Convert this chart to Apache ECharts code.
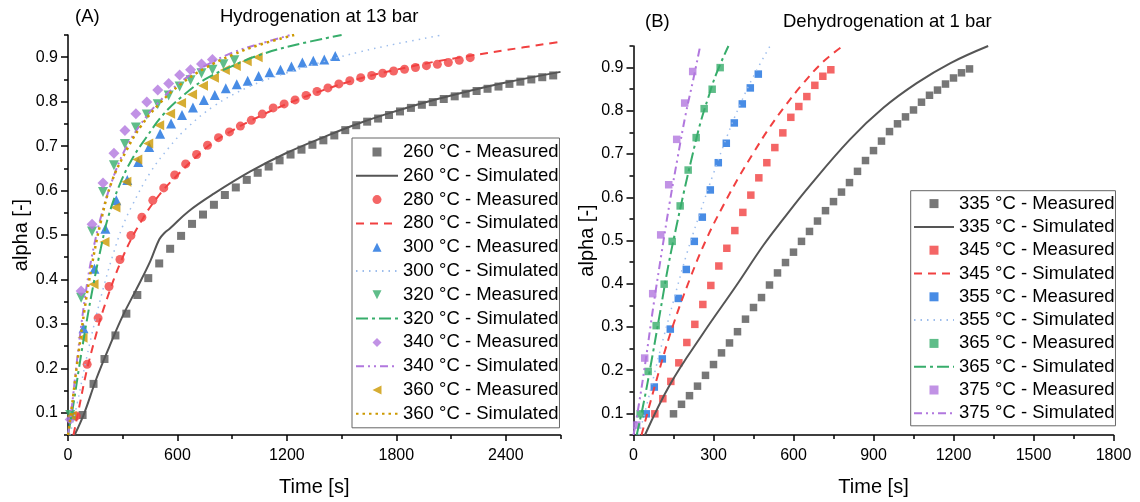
<!DOCTYPE html>
<html><head><meta charset="utf-8">
<script src="https://cdn.jsdelivr.net/npm/echarts@6/dist/echarts.min.js"></script>
<style>html,body{margin:0;padding:0;background:#fff}#c{width:1140px;height:502px}</style>
</head><body><div id="c"></div><script>
// ---------------- Panel A: Hydrogenation at 13 bar ----------------
const tA260m = [80,140,200,260,320,380,440,500,560,620,680,740,800,860,920,980,1040,1100,1160,1220,1280,1340,1400,1460,1520,1580,1640,1700,1760,1820,1880,1940,2000,2060,2120,2180,2240,2300,2360,2420,2480,2540,2600,2660];
const aA260m = [0.095,0.165,0.221,0.274,0.323,0.365,0.403,0.436,0.469,0.498,0.525,0.546,0.568,0.590,0.607,0.624,0.640,0.654,0.668,0.681,0.692,0.703,0.713,0.724,0.736,0.747,0.755,0.762,0.770,0.778,0.786,0.793,0.799,0.806,0.812,0.818,0.824,0.829,0.834,0.840,0.845,0.850,0.855,0.859];
const tA260s = [36,90,155,228,300,375,450,500,530,560,660,800,1000,1200,1400,1600,1800,2000,2200,2400,2700];
const aA260s = [0.05,0.10,0.176,0.25,0.318,0.378,0.44,0.49,0.505,0.515,0.553,0.593,0.643,0.685,0.72,0.752,0.779,0.803,0.824,0.843,0.867];

const tA280m = [45,105,165,225,285,345,405,465,525,585,645,705,765,825,885,945,1005,1065,1125,1185,1245,1305,1365,1425,1485,1545,1605,1665,1725,1785,1845,1905,1965,2025,2085,2145,2205];
const aA280m = [0.093,0.209,0.313,0.384,0.445,0.499,0.540,0.578,0.606,0.635,0.660,0.681,0.702,0.719,0.732,0.745,0.758,0.772,0.786,0.795,0.804,0.814,0.823,0.831,0.840,0.847,0.854,0.859,0.864,0.869,0.873,0.877,0.881,0.884,0.888,0.893,0.899];
const tA280s = [30,60,100,150,200,300,400,500,600,700,800,900,1000,1200,1400,1600,1800,2000,2200,2400,2700];
const aA280s = [0.05,0.11,0.19,0.27,0.34,0.45,0.53,0.59,0.635,0.675,0.71,0.735,0.757,0.795,0.826,0.852,0.872,0.889,0.903,0.916,0.935];

const tA300m = [25,85,145,205,265,325,385,445,505,565,625,685,745,805,865,925,985,1045,1105,1165,1225,1285,1345,1405,1465];
const aA300m = [0.095,0.29,0.424,0.514,0.578,0.624,0.664,0.698,0.728,0.751,0.770,0.787,0.804,0.815,0.830,0.839,0.847,0.858,0.866,0.872,0.879,0.888,0.892,0.895,0.903];
const tA300s = [10,50,100,150,200,250,300,350,450,550,650,800,1000,1200,1400,1600,1800,2050];
const aA300s = [0.05,0.12,0.22,0.31,0.39,0.46,0.52,0.565,0.64,0.695,0.74,0.79,0.835,0.865,0.89,0.912,0.93,0.95];

const tA320m = [12,72,132,192,252,312,372,432,492,552,612,672,732,792,852,912];
const aA320m = [0.095,0.359,0.508,0.597,0.657,0.705,0.742,0.771,0.794,0.814,0.834,0.848,0.864,0.872,0.884,0.893];
const tA320s = [0,30,60,100,140,180,220,280,350,430,520,620,750,900,1050,1250,1500];
const aA320s = [0.05,0.12,0.2,0.3,0.39,0.47,0.54,0.61,0.67,0.72,0.77,0.81,0.85,0.88,0.905,0.928,0.95];

const tA340m = [12,72,132,192,252,312,372,432,492,552,612,672,732,792];
const aA340m = [0.085,0.374,0.524,0.617,0.684,0.735,0.773,0.799,0.826,0.841,0.860,0.872,0.885,0.895];
const tA340s = [0,20,50,90,130,180,240,310,400,500,620,750,900,1050,1220];
const aA340s = [0.05,0.11,0.22,0.35,0.45,0.54,0.62,0.69,0.75,0.80,0.845,0.88,0.91,0.93,0.95];

const tA360m = [20,80,140,200,260,320,380,440,500,560,620,680,740,800,860,920,980,1040];
const aA360m = [0.093,0.269,0.389,0.484,0.562,0.620,0.670,0.706,0.747,0.773,0.797,0.816,0.836,0.854,0.871,0.880,0.891,0.900];
const tA360s = [0,20,50,90,130,180,240,320,400,500,620,750,900,1050,1240];
const aA360s = [0.05,0.11,0.21,0.33,0.43,0.53,0.62,0.69,0.745,0.795,0.84,0.875,0.905,0.928,0.95];

// ---------------- Panel B: Dehydrogenation at 1 bar ----------------
const tB335m = [150,180,210,240,270,300,330,360,390,420,450,480,510,540,570,600,630,660,690,720,750,780,810,840,870,900,930,960,990,1020,1050,1080,1110,1140,1170,1200,1230,1260];
const aB335m = [0.099,0.121,0.141,0.163,0.188,0.213,0.240,0.263,0.289,0.318,0.345,0.368,0.397,0.425,0.449,0.473,0.498,0.521,0.545,0.569,0.590,0.612,0.634,0.660,0.685,0.708,0.730,0.752,0.770,0.786,0.802,0.820,0.836,0.848,0.862,0.876,0.888,0.897];
const tB335s = [43,137,262,387,487,562,656,812,937,1062,1187,1330];
const aB335s = [0.05,0.167,0.286,0.397,0.489,0.55,0.623,0.734,0.807,0.864,0.91,0.95];

const tB345m = [80,110,140,170,200,230,260,290,320,350,380,410,440,470,500,530,560,590,620,650,680,710,740];
const aB345m = [0.099,0.134,0.174,0.217,0.264,0.306,0.352,0.396,0.441,0.482,0.523,0.565,0.605,0.645,0.680,0.715,0.749,0.785,0.810,0.833,0.859,0.880,0.895];
const tB345s = [30,99,149,212,274,340,400,450,500,562,637,712,785];
const aB345s = [0.05,0.205,0.305,0.412,0.504,0.585,0.652,0.703,0.752,0.806,0.864,0.914,0.95];

const tB355m = [48,78,108,138,168,198,228,258,288,318,348,378,408,438,468];
const aB355m = [0.099,0.161,0.226,0.295,0.366,0.433,0.498,0.554,0.617,0.680,0.725,0.772,0.816,0.853,0.885];
const tB355s = [20,50,100,150,200,250,300,350,400,450,512];
const aB355s = [0.05,0.12,0.245,0.36,0.47,0.565,0.655,0.74,0.815,0.88,0.95];

const tB365m = [25,55,85,115,145,175,205,235,265,295,325];
const aB365m = [0.099,0.197,0.303,0.399,0.498,0.580,0.663,0.738,0.805,0.850,0.900];
const tB365s = [12,40,70,100,130,160,190,220,250,280,310,356];
const aB365s = [0.05,0.13,0.23,0.335,0.44,0.53,0.615,0.695,0.77,0.83,0.885,0.95];

const tB375m = [12,42,72,102,132,162,192,222];
const aB375m = [0.073,0.228,0.377,0.513,0.629,0.734,0.818,0.891];
const tB375s = [0,20,45,75,105,135,165,195,225,250];
const aB375s = [0.05,0.12,0.22,0.35,0.47,0.585,0.69,0.79,0.875,0.95];

// ---------------- tick labels ----------------
const xTicksA = [0,600,1200,1800,2400];
const xMinorA = [300,900,1500,2100,2700];
const xTicksB = [0,300,600,900,1200,1500,1800];
const xMinorB = [150,450,750,1050,1350,1650];
const yTicks = [0.1,0.2,0.3,0.4,0.5,0.6,0.7,0.8,0.9];
const yMinor = [0.05,0.15,0.25,0.35,0.45,0.55,0.65,0.75,0.85,0.95];

const FONT = '"Liberation Sans", Arial, sans-serif';
const C = {gray:'#555555', red:'#F14040', blue:'#1A6FDF', blueL:'#9dbdec', green:'#37AD6B', purple:'#B177DE', gold:'#CC9900'};
const zip = (t, a) => t.map((v, i) => [v, a[i]]);

// legend icon shapes (aspect kept inside the legend icon box)
const ICON = {
  rect:'path://M0,0L10,0L10,10L0,10Z',
  circle:'path://M0,5A5,5,0,1,1,10,5A5,5,0,1,1,0,5Z',
  up:'path://M5,0L10,10L0,10Z',
  down:'path://M0,0L10,0L5,10Z',
  left:'path://M0,5L10,0L10,10Z',
  diamond:'path://M5,0L10,5L5,10L0,5Z'
};

function scat(name, t, a, color, symbol, size, rot, gi) {
  return {name, type:'scatter', xAxisIndex:gi*2, yAxisIndex:gi*2, data:zip(t,a),
    symbol, symbolSize:size, symbolRotate:rot, itemStyle:{color}, z:3};
}
function line(name, t, a, color, type, width, gi) {
  return {name, type:'line', xAxisIndex:gi*2, yAxisIndex:gi*2, data:zip(t,a),
    symbol:'none', showSymbol:false, smooth:0.4,
    lineStyle:{color, type, width}, itemStyle:{color, opacity:0}, z:4};
}
const DASH = [8,6], DOT = [1.5,5], DASHDOT = [12,4,3,4], DASHDOTDOT = [8,4,2,4,2,4], SDOT = [2.5,4];

const series = [
  scat('260 °C - Measured', tA260m, aA260m, C.gray, 'rect', 8, 0, 0),
  line('260 °C - Simulated', tA260s, aA260s, C.gray, 'solid', 2, 0),
  scat('280 °C - Measured', tA280m, aA280m, C.red, 'circle', 9, 0, 0),
  line('280 °C - Simulated', tA280s, aA280s, C.red, DASH, 2, 0),
  scat('300 °C - Measured', tA300m, aA300m, C.blue, 'triangle', 10, 0, 0),
  line('300 °C - Simulated', tA300s, aA300s, C.blueL, DOT, 1.5, 0),
  scat('320 °C - Measured', tA320m, aA320m, C.green, 'triangle', 10, 180, 0),
  line('320 °C - Simulated', tA320s, aA320s, C.green, DASHDOT, 2, 0),
  scat('340 °C - Measured', tA340m, aA340m, C.purple, 'diamond', 11, 0, 0),
  line('340 °C - Simulated', tA340s, aA340s, C.purple, DASHDOTDOT, 2, 0),
  scat('360 °C - Measured', tA360m, aA360m, C.gold, 'triangle', 10, 90, 0),
  line('360 °C - Simulated', tA360s, aA360s, C.gold, SDOT, 2.5, 0),

  scat('335 °C - Measured', tB335m, aB335m, C.gray, 'rect', 7.5, 0, 1),
  line('335 °C - Simulated', tB335s, aB335s, C.gray, 'solid', 2, 1),
  scat('345 °C - Measured', tB345m, aB345m, C.red, 'rect', 7.5, 0, 1),
  line('345 °C - Simulated', tB345s, aB345s, C.red, DASH, 2, 1),
  scat('355 °C - Measured', tB355m, aB355m, C.blue, 'rect', 7.5, 0, 1),
  line('355 °C - Simulated', tB355s, aB355s, C.blueL, DOT, 1.5, 1),
  scat('365 °C - Measured', tB365m, aB365m, C.green, 'rect', 7.5, 0, 1),
  line('365 °C - Simulated', tB365s, aB365s, C.green, DASHDOT, 2, 1),
  scat('375 °C - Measured', tB375m, aB375m, C.purple, 'rect', 7.5, 0, 1),
  line('375 °C - Simulated', tB375s, aB375s, C.purple, DASHDOTDOT, 2, 1)
];

const iconOrderA = ['rect',null,'circle',null,'up',null,'down',null,'diamond',null,'left',null];
const iconOrderB = ['rect',null,'rect',null,'rect',null,'rect',null,'rect',null];
const mk = (list, icons) => list.map((s, i) => icons[i]
  ? {name:s.name, icon:ICON[icons[i]], symbolRotate:0}
  : {name:s.name});

const axisLineS = {show:true, lineStyle:{color:'#000', width:1.5}};
function xAxes(gi, max, major, minor) {
  return [
    {type:'value', gridIndex:gi, position:'bottom', min:0, max, name:'Time [s]', nameLocation:'middle', nameGap:42,
     nameTextStyle:{fontSize:20, color:'#000', fontFamily:FONT},
     axisLine:axisLineS, splitLine:{show:false},
     axisTick:{show:true, customValues:major, length:6, lineStyle:{color:'#000', width:1.5}},
     axisLabel:{customValues:major, fontSize:16, color:'#000', fontFamily:FONT, margin:13,
       formatter:v => String(v)}},
    {type:'value', gridIndex:gi, position:'bottom', min:0, max, axisLine:{show:false}, splitLine:{show:false},
     axisTick:{show:true, customValues:minor, length:4, lineStyle:{color:'#000', width:1.5}},
     axisLabel:{show:false}}
  ];
}
function yAxes(gi) {
  return [
    {type:'value', gridIndex:gi, position:'left', min:0.05, max:0.95, name:'alpha [-]', nameLocation:'middle', nameGap:36,
     nameTextStyle:{fontSize:20, color:'#000', fontFamily:FONT},
     axisLine:axisLineS, splitLine:{show:false},
     axisTick:{show:true, customValues:yTicks, length:7, lineStyle:{color:'#000', width:1.5}},
     axisLabel:{customValues:yTicks, fontSize:16, color:'#000', fontFamily:FONT, margin:10,
       formatter:v => v.toFixed(1)}},
    {type:'value', gridIndex:gi, position:'left', min:0.05, max:0.95, axisLine:{show:false}, splitLine:{show:false},
     axisTick:{show:true, customValues:yMinor, length:4, lineStyle:{color:'#000', width:1.5}},
     axisLabel:{show:false}}
  ];
}

const legendBase = {orient:'vertical', itemHeight:9, borderColor:'#666', borderWidth:1,
  selectedMode:false, symbolKeepAspect:true,
  textStyle:{fontSize:18.5, lineHeight:18.5, color:'#000', fontFamily:FONT}};
const titleStyle = {fontSize:18.5, fontWeight:'normal', color:'#000', fontFamily:FONT};

const option = {
  animation:false,
  backgroundColor:'#fff',
  title:[
    {text:'(A)', left:75, top:7, padding:0, textStyle:titleStyle},
    {text:'Hydrogenation at 13 bar', left:220, top:7, padding:0, textStyle:titleStyle},
    {text:'(B)', left:645, top:12, padding:0, textStyle:titleStyle},
    {text:'Dehydrogenation at 1 bar', left:783, top:12, padding:0, textStyle:titleStyle}
  ],
  grid:[
    {left:68, top:35, width:492.5, height:401},
    {left:633.5, top:46, width:480, height:391.3}
  ],
  xAxis:[...xAxes(0, 2700, xTicksA, xMinorA), ...xAxes(1, 1800, xTicksB, xMinorB)],
  yAxis:[...yAxes(0), ...yAxes(1)],
  legend:[
    Object.assign({}, legendBase, {data:mk(series.slice(0,12), iconOrderA), left:352, top:138, itemWidth:42, itemGap:4.8, padding:[4.5,1,4.5,3]}),
    Object.assign({}, legendBase, {data:mk(series.slice(12), iconOrderB), left:910.7, top:190.7, itemWidth:40, itemGap:4.3, padding:[3.4,1,3,2.3]})
  ],
  series
};
const chart = echarts.init(document.getElementById('c'), null, {renderer:'canvas'});
chart.setOption(option);
</script></body></html>
